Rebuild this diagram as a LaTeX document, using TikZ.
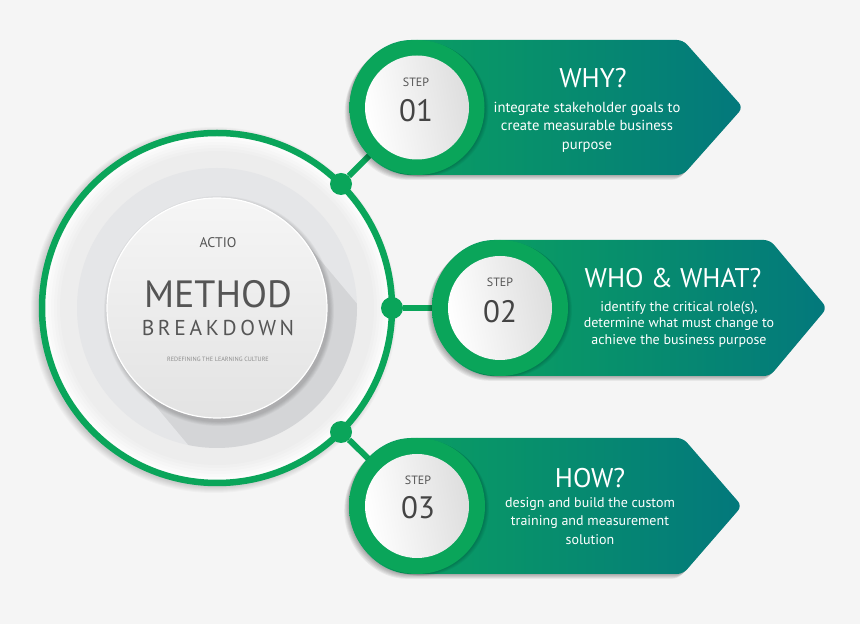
\documentclass[tikz,border=0pt]{standalone}
\usepackage{fontspec}
\setmainfont{PT Sans}
\newfontfamily\spacedfont[LetterSpace=17]{PT Sans}
\definecolor{bgc}{HTML}{F5F5F5}
\definecolor{ringg}{HTML}{0AA55A}
\definecolor{gA}{HTML}{0BA45E}
\definecolor{gM}{HTML}{06977A}
\definecolor{gB}{HTML}{03787C}
\definecolor{txtg}{HTML}{555555}
\definecolor{numg}{HTML}{444444}
\definecolor{hubgray}{HTML}{E5E6E8}
\definecolor{hubin}{HTML}{EFEFEF}
\pgfdeclarelayer{bglayer}
\pgfdeclarelayer{connlayer}
\pgfsetlayers{bglayer,connlayer,main}
\newcommand\bannerA{(417,449) arc[start angle=270, end angle=90, radius=67.5] -- (683,584) -- (743,516.5) -- (683,449) -- cycle}
\newcommand\bannerB{(500,248) arc[start angle=270, end angle=90, radius=68] -- (770,384) -- (827,316) -- (770,248) -- cycle}
\newcommand\bannerC{(417,50) arc[start angle=270, end angle=90, radius=68] -- (683,186) -- (742,118) -- (683,50) -- cycle}
\tikzset{
  dotst/.style={circle, fill=ringg, minimum size=22pt, inner sep=0pt},
  connector/.style={ringg, line width=6pt},
  bannerbody/.style={left color=gA, middle color=gM, right color=gB, rounded corners=6pt},
  bannershadow/.style={black, fill opacity=0.055, rounded corners=6pt},
  ringshadow/.style={black, fill opacity=0.04},
  stepc/.style={circle, minimum size=104pt, inner sep=0pt, left color=white, right color=black!13, shading angle=100},
  steplabel/.style={font=\fontsize{12}{14}\selectfont, text=txtg, inner sep=0pt},
  stepnum/.style={font=\fontsize{31}{34}\selectfont, text=numg, inner sep=0pt},
  head/.style={font=\fontsize{27}{30}\selectfont, text=white, inner sep=0pt},
  bodytext/.style={font=\fontsize{14}{18.5}\selectfont, text=white, align=center, inner sep=0pt},
  bodytight/.style={font=\fontsize{14}{16.5}\selectfont, text=white, align=center, inner sep=0pt},
  hubtext/.style={text=txtg, inner sep=0pt}
}
\begin{document}
\begin{tikzpicture}[x=1pt,y=1pt]
\useasboundingbox (0,0) rectangle (860,624);
\begin{pgfonlayer}{bglayer}
\fill[bgc] (0,0) rectangle (860,624);
\end{pgfonlayer}

% ---------- hub ----------
\foreach \i in {0,...,7}
  \fill[black, fill opacity=0.025] (214,314) circle ({183-\i});
\fill[white] (217,316) circle (175);
\foreach \i in {0,...,5}
  \fill[black, fill opacity=0.012] (217,316) circle ({172-\i*3});
\fill[hubgray] (217,316) circle (140);
\begin{scope}
  \clip (217,316) circle (140);
  \fill[black, fill opacity=0.07] (301.3,386.7) -- (494.1,156.9) -- (325.5,15.5) -- (132.7,245.3) -- cycle;
\end{scope}
\foreach \i in {0,...,5}
  \fill[black, fill opacity=0.03] (219,313) circle ({111+\i*0.8});
\node[circle, minimum size=220pt, inner sep=0pt, top color=hubin!60!white, bottom color=hubin!95!black, draw=white, line width=1.2pt] (hub) at (217,316) {};
\draw[ringg, line width=6.5pt] (217,316) circle (175);

\node[hubtext, font=\fontsize{14}{16}\selectfont] (actio) at (218,381) {ACTIO};
\node[hubtext, font=\fontsize{38}{42}\selectfont] (method) at (218,330) {METHOD};
\node[hubtext, font=\fontsize{21.5}{24}\spacedfont] (breakdown) at (218,296) {BREAKDOWN};
\node[hubtext, font=\fontsize{6.2}{7}\selectfont, text=black!45] (redef) at (218,265) {REDEFINING THE LEARNING CULTURE};

\node[dotst] (d1) at (341,440) {};
\node[dotst] (d2) at (392,316) {};
\node[dotst] (d3) at (341,192) {};

% ---------- banner 1 ----------
\foreach \k in {1,...,6}
  \fill[bannershadow, shift={(-0.8*\k,-0.8*\k)}] \bannerA;
\shade[bannerbody] \bannerA;
\foreach \k in {1,...,5}
  \fill[ringshadow, shift={(0.8*\k,-0.4*\k)}] (417,516.5) circle (67.5);
\fill[ringg] (417,516.5) circle (67.5);
\node[stepc] (s1) at (417,516.5) {};
\node[steplabel] (l1) at (416,542) {STEP};
\node[stepnum] (n1) at (416,513) {01};
\node[head] (h1) at (593,546) {WHY?};
\node[bodytext, font=\fontsize{14.6}{18.5}\selectfont] (b1) at (587,497) {integrate stakeholder goals to\\create measurable business\\purpose};

% ---------- banner 2 ----------
\foreach \k in {1,...,6}
  \fill[bannershadow, shift={(-0.8*\k,-0.8*\k)}] \bannerB;
\shade[bannerbody] \bannerB;
\foreach \k in {1,...,5}
  \fill[ringshadow, shift={(0.8*\k,-0.4*\k)}] (500,316) circle (68);
\fill[ringg] (500,316) circle (68);
\node[stepc] (s2) at (500,316) {};
\node[steplabel] (l2) at (500,342) {STEP};
\node[stepnum] (n2) at (500,312) {02};
\node[head] (h2) at (673,346) {WHO \& WHAT?};
\node[bodytight] (b2) at (679,300) {identify the critical role(s),\\determine what must change to\\achieve the business purpose};

% ---------- banner 3 ----------
\foreach \k in {1,...,6}
  \fill[bannershadow, shift={(-0.8*\k,-0.8*\k)}] \bannerC;
\shade[bannerbody] \bannerC;
\foreach \k in {1,...,5}
  \fill[ringshadow, shift={(0.8*\k,-0.4*\k)}] (417,118) circle (68);
\fill[ringg] (417,118) circle (68);
\node[stepc] (s3) at (417,118) {};
\node[steplabel] (l3) at (418,144) {STEP};
\node[stepnum] (n3) at (418,116) {03};
\node[head] (h3) at (590,146) {HOW?};
\node[bodytext] (b3) at (590,103) {design and build the custom\\training and measurement\\solution};

% ---------- connectors ----------
\begin{pgfonlayer}{connlayer}
\draw[connector] (d1) -- (s1);
\draw[connector] (d2) -- (s2);
\draw[connector] (d3) -- (s3);
\end{pgfonlayer}
\end{tikzpicture}
\end{document}
